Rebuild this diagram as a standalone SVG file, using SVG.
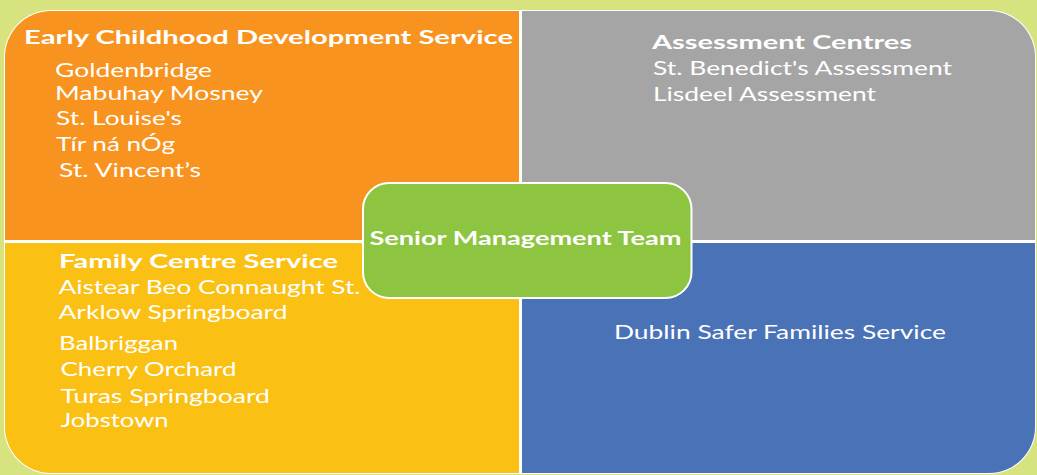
<svg xmlns="http://www.w3.org/2000/svg" width="1037" height="475" viewBox="0 0 1037 475">
  <defs>
    <clipPath id="frame">
      <rect x="5" y="11" width="1030" height="462" rx="46" ry="46"/>
    </clipPath>
    <style>
      .t { font-family: Lato, "Open Sans", "Liberation Sans", sans-serif; font-size: 19px; fill: #ffffff; }
      .h { font-family: Lato, "Open Sans", "Liberation Sans", sans-serif; font-size: 19.5px; font-weight: bold; fill: #ffffff; }
      .quad { stroke: none; }
    </style>
  </defs>

  <!-- page background -->
  <rect x="0" y="0" width="1037" height="475" fill="#d6e37f"/>

  <!-- outer rounded frame, white backing forms the border and dividers -->
  <rect x="4" y="10" width="1032" height="464" rx="47" ry="47" fill="#ffffff"/>

  <g clip-path="url(#frame)">
    <g id="early-childhood">
      <rect class="quad" x="5" y="11" width="514" height="229" fill="#f7931e"/>
    </g>
    <g id="assessment">
      <rect class="quad" x="522" y="11" width="513" height="229" fill="#a5a5a5"/>
    </g>
    <g id="family-centre">
      <rect class="quad" x="5" y="243" width="514" height="230" fill="#fbc014"/>
    </g>
    <g id="dublin-safer">
      <rect class="quad" x="522" y="243" width="513" height="230" fill="#4a72b7"/>
    </g>
  </g>

  <!-- quadrant labels -->
  <g id="early-childhood-text">
    <text class="h" x="24" y="44" textLength="489" lengthAdjust="spacingAndGlyphs">Early Childhood Development Service</text>
    <text class="t" x="55" y="77" textLength="157" lengthAdjust="spacingAndGlyphs">Goldenbridge</text>
    <text class="t" x="55" y="100" textLength="208" lengthAdjust="spacingAndGlyphs">Mabuhay Mosney</text>
    <text class="t" x="56" y="125" textLength="126" lengthAdjust="spacingAndGlyphs">St. Louise's</text>
    <text class="t" x="56" y="151" textLength="119" lengthAdjust="spacingAndGlyphs">Tír ná nÓg</text>
    <text class="t" x="59" y="176.5" textLength="142" lengthAdjust="spacingAndGlyphs">St. Vincent’s</text>
  </g>

  <g id="assessment-text">
    <text class="h" x="652" y="48.5" textLength="260" lengthAdjust="spacingAndGlyphs">Assessment Centres</text>
    <text class="t" x="653" y="75" textLength="299" lengthAdjust="spacingAndGlyphs">St. Benedict's Assessment</text>
    <text class="t" x="653" y="101" textLength="223" lengthAdjust="spacingAndGlyphs">Lisdeel Assessment</text>
  </g>

  <g id="family-centre-text">
    <text class="h" x="59" y="267.5" textLength="279" lengthAdjust="spacingAndGlyphs">Family Centre Service</text>
    <text class="t" x="58.5" y="293.5" textLength="302" lengthAdjust="spacingAndGlyphs">Aistear Beo Connaught St.</text>
    <text class="t" x="58.5" y="319" textLength="229" lengthAdjust="spacingAndGlyphs">Arklow Springboard</text>
    <text class="t" x="59" y="349.5" textLength="119" lengthAdjust="spacingAndGlyphs">Balbriggan</text>
    <text class="t" x="60.5" y="376" textLength="176" lengthAdjust="spacingAndGlyphs">Cherry Orchard</text>
    <text class="t" x="60.5" y="402.5" textLength="209.5" lengthAdjust="spacingAndGlyphs">Turas Springboard</text>
    <text class="t" x="60.5" y="426.5" textLength="108" lengthAdjust="spacingAndGlyphs">Jobstown</text>
  </g>

  <g id="dublin-safer-text">
    <text class="t" x="614" y="338.5" textLength="332" lengthAdjust="spacingAndGlyphs">Dublin Safer Families Service</text>
  </g>

  <!-- central node -->
  <g id="senior-management">
    <rect x="363" y="183" width="328.5" height="115" rx="26" ry="26" fill="#8dc540" stroke="#ffffff" stroke-width="2"/>
    <text class="h" x="369.5" y="245" textLength="312" lengthAdjust="spacingAndGlyphs">Senior Management Team</text>
  </g>

  <!-- no connectors drawn between nodes -->
  <g id="connectors"/>
</svg>
